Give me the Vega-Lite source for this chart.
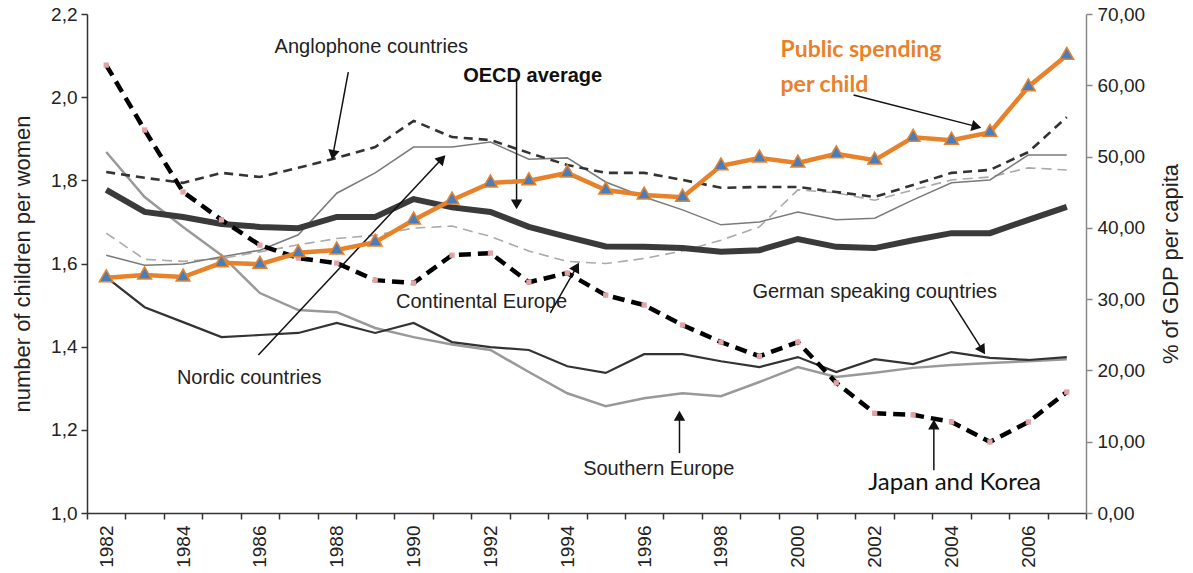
{
  "$schema": "https://vega.github.io/schema/vega-lite/v6.json",
  "width": 999,
  "height": 499,
  "autosize": {"type": "none"},
  "padding": {"left": 87, "top": 14, "right": 107, "bottom": 60},
  "background": "white",
  "config": {
    "font": "Liberation Sans",
    "view": {"stroke": null},
    "axis": {"grid": false}
  },
  "datasets": {
    "fert": [
      {"series": "OECD average", "year": 1982, "value": 1.777},
      {"series": "OECD average", "year": 1983, "value": 1.724},
      {"series": "OECD average", "year": 1984, "value": 1.712},
      {"series": "OECD average", "year": 1985, "value": 1.695},
      {"series": "OECD average", "year": 1986, "value": 1.688},
      {"series": "OECD average", "year": 1987, "value": 1.685},
      {"series": "OECD average", "year": 1988, "value": 1.712},
      {"series": "OECD average", "year": 1989, "value": 1.712},
      {"series": "OECD average", "year": 1990, "value": 1.755},
      {"series": "OECD average", "year": 1991, "value": 1.735},
      {"series": "OECD average", "year": 1992, "value": 1.724},
      {"series": "OECD average", "year": 1993, "value": 1.688},
      {"series": "OECD average", "year": 1994, "value": 1.664},
      {"series": "OECD average", "year": 1995, "value": 1.641},
      {"series": "OECD average", "year": 1996, "value": 1.640},
      {"series": "OECD average", "year": 1997, "value": 1.637},
      {"series": "OECD average", "year": 1998, "value": 1.628},
      {"series": "OECD average", "year": 1999, "value": 1.632},
      {"series": "OECD average", "year": 2000, "value": 1.659},
      {"series": "OECD average", "year": 2001, "value": 1.640},
      {"series": "OECD average", "year": 2002, "value": 1.637},
      {"series": "OECD average", "year": 2003, "value": 1.656},
      {"series": "OECD average", "year": 2004, "value": 1.673},
      {"series": "OECD average", "year": 2005, "value": 1.673},
      {"series": "OECD average", "year": 2006, "value": 1.705},
      {"series": "OECD average", "year": 2007, "value": 1.736},
      {"series": "Anglophone countries", "year": 1982, "value": 1.820},
      {"series": "Anglophone countries", "year": 1983, "value": 1.806},
      {"series": "Anglophone countries", "year": 1984, "value": 1.794},
      {"series": "Anglophone countries", "year": 1985, "value": 1.818},
      {"series": "Anglophone countries", "year": 1986, "value": 1.808},
      {"series": "Anglophone countries", "year": 1987, "value": 1.830},
      {"series": "Anglophone countries", "year": 1988, "value": 1.854},
      {"series": "Anglophone countries", "year": 1989, "value": 1.880},
      {"series": "Anglophone countries", "year": 1990, "value": 1.943},
      {"series": "Anglophone countries", "year": 1991, "value": 1.904},
      {"series": "Anglophone countries", "year": 1992, "value": 1.897},
      {"series": "Anglophone countries", "year": 1993, "value": 1.866},
      {"series": "Anglophone countries", "year": 1994, "value": 1.837},
      {"series": "Anglophone countries", "year": 1995, "value": 1.818},
      {"series": "Anglophone countries", "year": 1996, "value": 1.818},
      {"series": "Anglophone countries", "year": 1997, "value": 1.801},
      {"series": "Anglophone countries", "year": 1998, "value": 1.782},
      {"series": "Anglophone countries", "year": 1999, "value": 1.784},
      {"series": "Anglophone countries", "year": 2000, "value": 1.784},
      {"series": "Anglophone countries", "year": 2001, "value": 1.772},
      {"series": "Anglophone countries", "year": 2002, "value": 1.760},
      {"series": "Anglophone countries", "year": 2003, "value": 1.789},
      {"series": "Anglophone countries", "year": 2004, "value": 1.818},
      {"series": "Anglophone countries", "year": 2005, "value": 1.825},
      {"series": "Anglophone countries", "year": 2006, "value": 1.868},
      {"series": "Anglophone countries", "year": 2007, "value": 1.952},
      {"series": "Nordic countries", "year": 1982, "value": 1.620},
      {"series": "Nordic countries", "year": 1983, "value": 1.596},
      {"series": "Nordic countries", "year": 1984, "value": 1.599},
      {"series": "Nordic countries", "year": 1985, "value": 1.616},
      {"series": "Nordic countries", "year": 1986, "value": 1.632},
      {"series": "Nordic countries", "year": 1987, "value": 1.669},
      {"series": "Nordic countries", "year": 1988, "value": 1.769},
      {"series": "Nordic countries", "year": 1989, "value": 1.818},
      {"series": "Nordic countries", "year": 1990, "value": 1.880},
      {"series": "Nordic countries", "year": 1991, "value": 1.880},
      {"series": "Nordic countries", "year": 1992, "value": 1.892},
      {"series": "Nordic countries", "year": 1993, "value": 1.851},
      {"series": "Nordic countries", "year": 1994, "value": 1.854},
      {"series": "Nordic countries", "year": 1995, "value": 1.796},
      {"series": "Nordic countries", "year": 1996, "value": 1.760},
      {"series": "Nordic countries", "year": 1997, "value": 1.729},
      {"series": "Nordic countries", "year": 1998, "value": 1.693},
      {"series": "Nordic countries", "year": 1999, "value": 1.700},
      {"series": "Nordic countries", "year": 2000, "value": 1.724},
      {"series": "Nordic countries", "year": 2001, "value": 1.705},
      {"series": "Nordic countries", "year": 2002, "value": 1.709},
      {"series": "Nordic countries", "year": 2003, "value": 1.753},
      {"series": "Nordic countries", "year": 2004, "value": 1.794},
      {"series": "Nordic countries", "year": 2005, "value": 1.801},
      {"series": "Nordic countries", "year": 2006, "value": 1.861},
      {"series": "Nordic countries", "year": 2007, "value": 1.861},
      {"series": "Continental Europe", "year": 1982, "value": 1.673},
      {"series": "Continental Europe", "year": 1983, "value": 1.610},
      {"series": "Continental Europe", "year": 1984, "value": 1.605},
      {"series": "Continental Europe", "year": 1985, "value": 1.612},
      {"series": "Continental Europe", "year": 1986, "value": 1.628},
      {"series": "Continental Europe", "year": 1987, "value": 1.645},
      {"series": "Continental Europe", "year": 1988, "value": 1.660},
      {"series": "Continental Europe", "year": 1989, "value": 1.668},
      {"series": "Continental Europe", "year": 1990, "value": 1.685},
      {"series": "Continental Europe", "year": 1991, "value": 1.690},
      {"series": "Continental Europe", "year": 1992, "value": 1.665},
      {"series": "Continental Europe", "year": 1993, "value": 1.630},
      {"series": "Continental Europe", "year": 1994, "value": 1.605},
      {"series": "Continental Europe", "year": 1995, "value": 1.600},
      {"series": "Continental Europe", "year": 1996, "value": 1.612},
      {"series": "Continental Europe", "year": 1997, "value": 1.630},
      {"series": "Continental Europe", "year": 1998, "value": 1.656},
      {"series": "Continental Europe", "year": 1999, "value": 1.688},
      {"series": "Continental Europe", "year": 2000, "value": 1.777},
      {"series": "Continental Europe", "year": 2001, "value": 1.770},
      {"series": "Continental Europe", "year": 2002, "value": 1.752},
      {"series": "Continental Europe", "year": 2003, "value": 1.777},
      {"series": "Continental Europe", "year": 2004, "value": 1.801},
      {"series": "Continental Europe", "year": 2005, "value": 1.808},
      {"series": "Continental Europe", "year": 2006, "value": 1.830},
      {"series": "Continental Europe", "year": 2007, "value": 1.825},
      {"series": "Japan and Korea", "year": 1982, "value": 2.077},
      {"series": "Japan and Korea", "year": 1983, "value": 1.921},
      {"series": "Japan and Korea", "year": 1984, "value": 1.772},
      {"series": "Japan and Korea", "year": 1985, "value": 1.705},
      {"series": "Japan and Korea", "year": 1986, "value": 1.644},
      {"series": "Japan and Korea", "year": 1987, "value": 1.613},
      {"series": "Japan and Korea", "year": 1988, "value": 1.601},
      {"series": "Japan and Korea", "year": 1989, "value": 1.560},
      {"series": "Japan and Korea", "year": 1990, "value": 1.553},
      {"series": "Japan and Korea", "year": 1991, "value": 1.620},
      {"series": "Japan and Korea", "year": 1992, "value": 1.625},
      {"series": "Japan and Korea", "year": 1993, "value": 1.555},
      {"series": "Japan and Korea", "year": 1994, "value": 1.577},
      {"series": "Japan and Korea", "year": 1995, "value": 1.524},
      {"series": "Japan and Korea", "year": 1996, "value": 1.500},
      {"series": "Japan and Korea", "year": 1997, "value": 1.452},
      {"series": "Japan and Korea", "year": 1998, "value": 1.411},
      {"series": "Japan and Korea", "year": 1999, "value": 1.377},
      {"series": "Japan and Korea", "year": 2000, "value": 1.411},
      {"series": "Japan and Korea", "year": 2001, "value": 1.313},
      {"series": "Japan and Korea", "year": 2002, "value": 1.240},
      {"series": "Japan and Korea", "year": 2003, "value": 1.236},
      {"series": "Japan and Korea", "year": 2004, "value": 1.219},
      {"series": "Japan and Korea", "year": 2005, "value": 1.171},
      {"series": "Japan and Korea", "year": 2006, "value": 1.219},
      {"series": "Japan and Korea", "year": 2007, "value": 1.291},
      {"series": "German speaking countries", "year": 1982, "value": 1.567},
      {"series": "German speaking countries", "year": 1983, "value": 1.495},
      {"series": "German speaking countries", "year": 1984, "value": 1.459},
      {"series": "German speaking countries", "year": 1985, "value": 1.423},
      {"series": "German speaking countries", "year": 1986, "value": 1.428},
      {"series": "German speaking countries", "year": 1987, "value": 1.433},
      {"series": "German speaking countries", "year": 1988, "value": 1.457},
      {"series": "German speaking countries", "year": 1989, "value": 1.433},
      {"series": "German speaking countries", "year": 1990, "value": 1.457},
      {"series": "German speaking countries", "year": 1991, "value": 1.411},
      {"series": "German speaking countries", "year": 1992, "value": 1.399},
      {"series": "German speaking countries", "year": 1993, "value": 1.392},
      {"series": "German speaking countries", "year": 1994, "value": 1.353},
      {"series": "German speaking countries", "year": 1995, "value": 1.337},
      {"series": "German speaking countries", "year": 1996, "value": 1.382},
      {"series": "German speaking countries", "year": 1997, "value": 1.382},
      {"series": "German speaking countries", "year": 1998, "value": 1.365},
      {"series": "German speaking countries", "year": 1999, "value": 1.351},
      {"series": "German speaking countries", "year": 2000, "value": 1.375},
      {"series": "German speaking countries", "year": 2001, "value": 1.339},
      {"series": "German speaking countries", "year": 2002, "value": 1.370},
      {"series": "German speaking countries", "year": 2003, "value": 1.358},
      {"series": "German speaking countries", "year": 2004, "value": 1.387},
      {"series": "German speaking countries", "year": 2005, "value": 1.373},
      {"series": "German speaking countries", "year": 2006, "value": 1.368},
      {"series": "German speaking countries", "year": 2007, "value": 1.375},
      {"series": "Southern Europe", "year": 1982, "value": 1.868},
      {"series": "Southern Europe", "year": 1983, "value": 1.760},
      {"series": "Southern Europe", "year": 1984, "value": 1.688},
      {"series": "Southern Europe", "year": 1985, "value": 1.620},
      {"series": "Southern Europe", "year": 1986, "value": 1.529},
      {"series": "Southern Europe", "year": 1987, "value": 1.488},
      {"series": "Southern Europe", "year": 1988, "value": 1.483},
      {"series": "Southern Europe", "year": 1989, "value": 1.445},
      {"series": "Southern Europe", "year": 1990, "value": 1.423},
      {"series": "Southern Europe", "year": 1991, "value": 1.405},
      {"series": "Southern Europe", "year": 1992, "value": 1.392},
      {"series": "Southern Europe", "year": 1993, "value": 1.339},
      {"series": "Southern Europe", "year": 1994, "value": 1.288},
      {"series": "Southern Europe", "year": 1995, "value": 1.257},
      {"series": "Southern Europe", "year": 1996, "value": 1.276},
      {"series": "Southern Europe", "year": 1997, "value": 1.288},
      {"series": "Southern Europe", "year": 1998, "value": 1.281},
      {"series": "Southern Europe", "year": 1999, "value": 1.315},
      {"series": "Southern Europe", "year": 2000, "value": 1.351},
      {"series": "Southern Europe", "year": 2001, "value": 1.327},
      {"series": "Southern Europe", "year": 2002, "value": 1.337},
      {"series": "Southern Europe", "year": 2003, "value": 1.349},
      {"series": "Southern Europe", "year": 2004, "value": 1.356},
      {"series": "Southern Europe", "year": 2005, "value": 1.361},
      {"series": "Southern Europe", "year": 2006, "value": 1.365},
      {"series": "Southern Europe", "year": 2007, "value": 1.370}
    ],
    "spend": [
      {"year": 1982, "value": 33.0}, {"year": 1983, "value": 33.4}, {"year": 1984, "value": 33.1},
      {"year": 1985, "value": 35.1}, {"year": 1986, "value": 34.9}, {"year": 1987, "value": 36.5},
      {"year": 1988, "value": 36.9}, {"year": 1989, "value": 38.0}, {"year": 1990, "value": 41.1},
      {"year": 1991, "value": 43.9}, {"year": 1992, "value": 46.3}, {"year": 1993, "value": 46.6},
      {"year": 1994, "value": 47.7}, {"year": 1995, "value": 45.3}, {"year": 1996, "value": 44.6},
      {"year": 1997, "value": 44.3}, {"year": 1998, "value": 48.7}, {"year": 1999, "value": 49.8},
      {"year": 2000, "value": 49.1}, {"year": 2001, "value": 50.4}, {"year": 2002, "value": 49.5},
      {"year": 2003, "value": 52.7}, {"year": 2004, "value": 52.3}, {"year": 2005, "value": 53.4},
      {"year": 2006, "value": 59.8}, {"year": 2007, "value": 64.2}
    ],
    "labels": [
      {"label": "Anglophone countries", "year": 1988.9, "value": 2.121},
      {"label": "Continental Europe", "year": 1991.77, "value": 1.507},
      {"label": "German speaking countries", "year": 2002.0, "value": 1.531},
      {"label": "Nordic countries", "year": 1985.72, "value": 1.325},
      {"label": "Southern Europe", "year": 1996.38, "value": 1.106}
    ],
    "arrows": [
      {"name": "Anglophone", "year": 1988.30, "value": 2.060, "year2": 1987.89, "value2": 1.856},
      {"name": "OECD", "year": 1992.68, "value": 2.041, "year2": 1992.68, "value2": 1.736},
      {"name": "Public", "year": 2001.45, "value": 2.005, "year2": 2004.71, "value2": 1.928},
      {"name": "Nordic", "year": 1985.96, "value": 1.380, "year2": 1990.78, "value2": 1.856},
      {"name": "Continental", "year": 1993.56, "value": 1.481, "year2": 1994.27, "value2": 1.596},
      {"name": "German", "year": 2003.93, "value": 1.519, "year2": 2004.84, "value2": 1.387},
      {"name": "Southern", "year": 1996.92, "value": 1.144, "year2": 1996.92, "value2": 1.240},
      {"name": "Japan", "year": 2003.54, "value": 1.103, "year2": 2003.54, "value2": 1.219}
    ]
  },
  "encoding": {
    "x": {
      "field": "year",
      "type": "quantitative",
      "scale": {"domain": [1981.5, 2007.5], "nice": false, "zero": false},
      "axis": {
        "title": null,
        "values": [1981.5,1982,1982.5,1983,1983.5,1984,1984.5,1985,1985.5,1986,1986.5,1987,1987.5,1988,1988.5,1989,1989.5,1990,1990.5,1991,1991.5,1992,1992.5,1993,1993.5,1994,1994.5,1995,1995.5,1996,1996.5,1997,1997.5,1998,1998.5,1999,1999.5,2000,2000.5,2001,2001.5,2002,2002.5,2003,2003.5,2004,2004.5,2005,2005.5,2006,2006.5,2007,2007.5],
        "labelExpr": "datum.value % 2 === 0 ? toString(datum.value) : ''",
        "labelAngle": -90,
        "labelFontSize": 19,
        "labelColor": "#222",
        "labelOverlap": false,
        "labelFlush": false,
        "labelBound": false,
        "labelPadding": 6,
        "tickSize": 6,
        "tickWidth": 1.5,
        "tickColor": "#333",
        "tickOpacity": {"condition": {"test": "datum.value % 1 === 0", "value": 0}, "value": 1},
        "domainColor": "#333",
        "domainWidth": 1.5
      }
    }
  },
  "layer": [
    {
      "encoding": {
        "y": {
          "field": "value",
          "type": "quantitative",
          "scale": {"domain": [1.0, 2.2], "nice": false, "zero": false},
          "axis": {
            "orient": "left",
            "values": [1.0, 1.2, 1.4, 1.6, 1.8, 2.0, 2.2],
            "labelExpr": "replace(format(datum.value, '.1f'), '.', ',')",
            "labelFontSize": 19,
            "labelColor": "#222",
            "labelPadding": 4,
            "tickSize": 6,
            "tickWidth": 1.5,
            "tickColor": "#333",
            "domainColor": "#333",
            "domainWidth": 1.5,
            "title": "number of children per women",
            "titleFontSize": 22,
            "titleFontWeight": "normal",
            "titleColor": "#222",
            "titlePadding": 16
          }
        }
      },
      "layer": [
        {
          "data": {"name": "fert"},
          "transform": [{"filter": "datum.series === 'Continental Europe'"}],
          "mark": {"type": "line", "color": "#aaaaaa", "strokeWidth": 1.6, "strokeDash": [10, 6]}
        },
        {
          "data": {"name": "fert"},
          "transform": [{"filter": "datum.series === 'Nordic countries'"}],
          "mark": {"type": "line", "color": "#7a7a7a", "strokeWidth": 1.5}
        },
        {
          "data": {"name": "fert"},
          "transform": [{"filter": "datum.series === 'Southern Europe'"}],
          "mark": {"type": "line", "color": "#999999", "strokeWidth": 2.5}
        },
        {
          "data": {"name": "fert"},
          "transform": [{"filter": "datum.series === 'German speaking countries'"}],
          "mark": {"type": "line", "color": "#333333", "strokeWidth": 2.2}
        },
        {
          "data": {"name": "fert"},
          "transform": [{"filter": "datum.series === 'Anglophone countries'"}],
          "mark": {"type": "line", "color": "#333333", "strokeWidth": 2.6, "strokeDash": [9, 6]}
        },
        {
          "data": {"name": "fert"},
          "transform": [{"filter": "datum.series === 'OECD average'"}],
          "mark": {"type": "line", "color": "#3a3a3a", "strokeWidth": 6}
        },
        {
          "data": {"name": "fert"},
          "transform": [{"filter": "datum.series === 'Japan and Korea'"}],
          "mark": {"type": "line", "color": "#000000", "strokeWidth": 4.5, "strokeDash": [12, 7]}
        },
        {
          "data": {"name": "fert"},
          "transform": [{"filter": "datum.series === 'Japan and Korea'"}],
          "mark": {"type": "point", "shape": "square", "filled": true, "color": "#e3a3a6", "size": 28, "opacity": 1}
        },
        {
          "data": {"name": "arrows"},
          "mark": {"type": "rule", "color": "#111111", "strokeWidth": 1.5},
          "encoding": {"x2": {"field": "year2"}, "y2": {"field": "value2"}}
        },
        {
          "data": {"values": [{"year": 1987.91, "value": 1.865}]},
          "mark": {"type": "point", "shape": "triangle", "filled": true, "color": "#111111", "size": 130, "opacity": 1, "angle": 191}
        },
        {
          "data": {"values": [{"year": 1992.68, "value": 1.746}]},
          "mark": {"type": "point", "shape": "triangle", "filled": true, "color": "#111111", "size": 130, "opacity": 1, "angle": 180}
        },
        {
          "data": {"values": [{"year": 2004.61, "value": 1.930}]},
          "mark": {"type": "point", "shape": "triangle", "filled": true, "color": "#111111", "size": 130, "opacity": 1, "angle": 104}
        },
        {
          "data": {"values": [{"year": 1990.71, "value": 1.849}]},
          "mark": {"type": "point", "shape": "triangle", "filled": true, "color": "#111111", "size": 130, "opacity": 1, "angle": 43}
        },
        {
          "data": {"values": [{"year": 1994.22, "value": 1.588}]},
          "mark": {"type": "point", "shape": "triangle", "filled": true, "color": "#111111", "size": 130, "opacity": 1, "angle": 29}
        },
        {
          "data": {"values": [{"year": 2004.78, "value": 1.395}]},
          "mark": {"type": "point", "shape": "triangle", "filled": true, "color": "#111111", "size": 130, "opacity": 1, "angle": 147}
        },
        {
          "data": {"values": [{"year": 1996.92, "value": 1.230}, {"year": 2003.54, "value": 1.209}]},
          "mark": {"type": "point", "shape": "triangle", "filled": true, "color": "#111111", "size": 130, "opacity": 1, "angle": 0}
        },
        {
          "data": {"name": "labels"},
          "mark": {"type": "text", "fontSize": 20, "color": "#222222", "align": "center", "baseline": "middle"},
          "encoding": {"text": {"field": "label"}}
        },
        {
          "data": {"values": [{"label": "OECD average", "year": 1993.1, "value": 2.051}]},
          "mark": {"type": "text", "fontSize": 20, "fontWeight": "bold", "color": "#111111", "align": "center", "baseline": "middle"},
          "encoding": {"text": {"field": "label"}}
        },
        {
          "data": {"values": [{"label": "Public spending", "year": 1999.55, "value": 2.113}, {"label": "per child", "year": 1999.55, "value": 2.029}]},
          "mark": {"type": "text", "font": "Lato", "fontSize": 23, "fontWeight": "bold", "color": "#E8822A", "align": "left", "baseline": "middle"},
          "encoding": {"text": {"field": "label"}}
        },
        {
          "data": {"values": [{"label": "Japan and Korea", "year": 2004.08, "value": 1.072}]},
          "mark": {"type": "text", "font": "Lato", "fontSize": 24, "color": "#111111", "align": "center", "baseline": "middle"},
          "encoding": {"text": {"field": "label"}}
        }
      ]
    },
    {
      "data": {"name": "spend"},
      "encoding": {
        "y": {
          "field": "value",
          "type": "quantitative",
          "scale": {"domain": [0, 70], "nice": false, "zero": true},
          "axis": {
            "orient": "right",
            "values": [0, 10, 20, 30, 40, 50, 60, 70],
            "labelExpr": "replace(format(datum.value, '.2f'), '.', ',')",
            "labelFontSize": 19,
            "labelColor": "#222",
            "labelPadding": 5,
            "tickSize": 6,
            "tickWidth": 1.5,
            "tickColor": "#888",
            "domainColor": "#888",
            "domainWidth": 1.5,
            "title": "% of GDP per capita",
            "titleAngle": -90,
            "titleFontSize": 22,
            "titleFontWeight": "normal",
            "titleColor": "#222",
            "titlePadding": 38
          }
        }
      },
      "layer": [
        {"mark": {"type": "line", "color": "#E8822A", "strokeWidth": 4.5}},
        {"mark": {"type": "point", "shape": "triangle", "filled": true, "color": "#4A7EBB", "stroke": "#E8822A", "strokeWidth": 1.5, "size": 190, "opacity": 1}}
      ]
    }
  ],
  "resolve": {"scale": {"y": "independent"}, "axis": {"y": "independent"}}
}
